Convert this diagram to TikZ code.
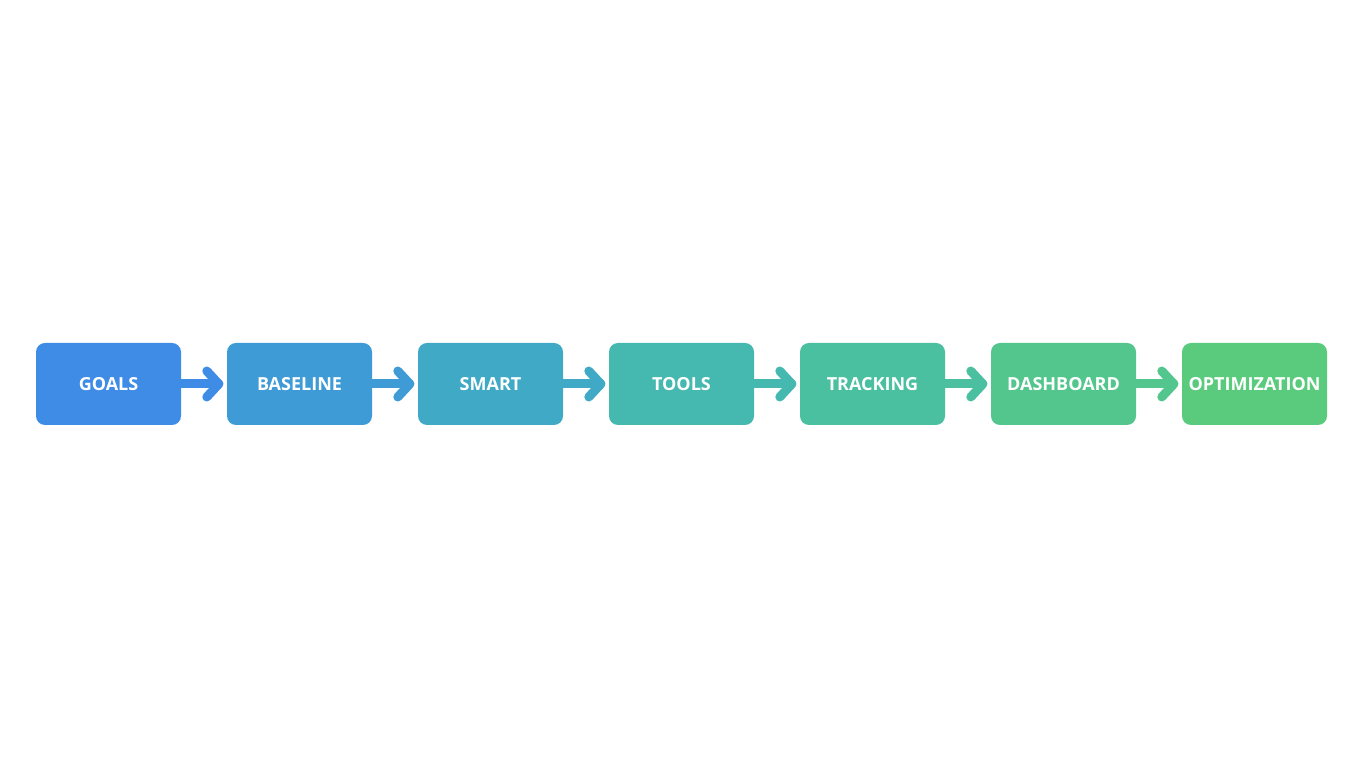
\documentclass[tikz,border=0pt]{standalone}
\usepackage{fontspec}
\setmainfont{Open Sans}
\begin{document}
\begin{tikzpicture}[x=1pt,y=1pt,
  stepbox/.style={rounded corners=9pt,minimum width=145pt,minimum height=82pt,inner sep=0pt,text=white,font=\fontsize{18}{20}\selectfont\bfseries},
  conn/.style={line width=9pt,line cap=round,line join=round}]
\useasboundingbox (0,0) rectangle (1365,768);
\definecolor{c1}{HTML}{3F8CE6}
\definecolor{c2}{HTML}{3E9BD6}
\definecolor{c3}{HTML}{40AAC6}
\definecolor{c4}{HTML}{45B8B0}
\definecolor{c5}{HTML}{4BC0A0}
\definecolor{c6}{HTML}{52C68C}
\definecolor{c7}{HTML}{5ACB7C}
\foreach \t [count=\i] in {GOALS,BASELINE,SMART,TOOLS,TRACKING,DASHBOARD,OPTIMIZATION}{
  \node[stepbox,fill=c\i] (n\i) at ({108.5+191*(\i-1)},384) {\t};
}
\foreach \i [evaluate=\i as \j using int(\i+1)] in {1,...,6}{
  \coordinate (a\i) at ([xshift=-8pt]n\j.west);
  \draw[conn,draw=c\i] (n\i.east) -- (a\i);
  \draw[conn,draw=c\i] ([shift={(-12pt,13pt)}]a\i) -- (a\i) -- ([shift={(-12pt,-13pt)}]a\i);
}
\end{tikzpicture}
\end{document}
